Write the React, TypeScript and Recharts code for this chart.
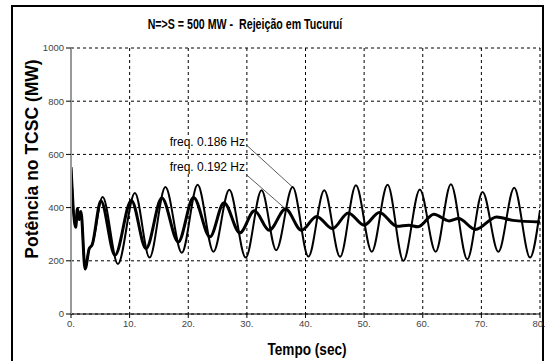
import React from "react"
import {
  LineChart,
  Line,
  XAxis,
  YAxis,
  CartesianGrid,
  ReferenceLine,
} from "recharts"

// time axis ticks (sec) and power ticks (MW)
const timeTicks = [0, 10, 20, 30, 40, 50, 60, 70, 80]
const powerTicks = [0, 200, 400, 600, 800, 1000]

// freq. 0.186 Hz - larger oscillation
const timeA = [
  0, 0.8, 1.1, 1.4, 1.7, 2.4, 3.1, 3.6, 5.4, 8.0, 10.9, 13.4, 16.1, 18.9, 21.6,
  24.3, 27.0, 29.8, 32.5, 35.0, 37.8, 40.5, 43.2, 45.9, 48.6, 51.3, 54.0, 56.7,
  59.5, 62.2, 64.8, 67.6, 70.2, 72.9, 75.6, 78.3, 80,
]
const powerA = [
  552, 326, 397, 355, 385, 169, 245, 260, 440, 188, 455, 212, 477, 230, 486,
  234, 467, 212, 465, 240, 477, 216, 465, 215, 484, 234, 486, 200,
  468, 234, 488, 206, 459, 234, 475, 212, 390,
]

// freq. 0.192 Hz - damped oscillation
const timeB = [
  0, 0.8, 1.1, 1.4, 1.7, 2.4, 3.1, 3.6, 5.1, 7.5, 10.3, 12.8, 15.5, 18.3, 20.9,
  23.7, 26.1, 28.8, 31.3, 33.8, 36.6, 39.3, 41.9, 44.6, 47.3, 50.0, 52.6, 55.6,
  57.6, 59.2, 61.9, 64.5, 66.1, 69.0, 72.6, 75.4, 80,
]
const powerB = [
  552, 326, 397, 355, 385, 169, 245, 260, 425, 221, 427, 246, 436, 271, 438,
  290, 418, 305, 388, 315, 395, 315, 367, 321, 380, 334, 382, 330,
  334, 328, 375, 350, 359, 318, 365, 352, 346,
]

// where the annotation leader lines start (label anchor, data units)
const labelAnchorT = 29.85
const labelAnchorA = 637
const labelAnchorB = 525

const seriesA = timeA.map((t, i) => ({ t, v: powerA[i] }))
const seriesB = timeB.map((t, i) => ({ t, v: powerB[i] }))

const peakA = seriesA[timeA.indexOf(37.8)]
const peakB = seriesB[timeB.indexOf(36.6)]

const sans = "'Liberation Sans', Arial, sans-serif"

const App: React.FC = () => {
  return (
    <div
      style={{
        position: "absolute",
        left: 0,
        top: 0,
        width: 545,
        height: 361,
        overflow: "hidden",
        background: "#fff",
      }}
    >
      {/* outer frame */}
      <div
        style={{
          position: "absolute",
          left: 11,
          top: 5,
          width: 533,
          height: 420,
          border: "2px solid #000",
          boxSizing: "border-box",
        }}
      />

      <div style={{ position: "absolute", left: 0, top: 0 }}>
        <LineChart
          width={545}
          height={361}
          margin={{ top: 48, right: 5, bottom: 17, left: 21 }}
        >
          <CartesianGrid
            strokeDasharray="3 3"
            stroke="#000"
            strokeWidth={1}
          />
          <XAxis
            type="number"
            dataKey="t"
            domain={[0, 80]}
            ticks={timeTicks}
            tickFormatter={(v) => `${v}.`}
            height={30}
            stroke="#000"
            tickSize={4}
            tick={{ fontSize: 9.5, fill: "#444", fontFamily: sans }}
            allowDataOverflow
          />
          <YAxis
            type="number"
            domain={[0, 1000]}
            ticks={powerTicks}
            width={50}
            stroke="#999"
            strokeWidth={2}
            tickLine={{ stroke: "#000", strokeWidth: 1 }}
            tickSize={5}
            tick={{ fontSize: 9.5, fill: "#444", fontFamily: sans }}
          />

          {/* leader lines from labels */}
          <ReferenceLine
            segment={[
              { x: labelAnchorT, y: labelAnchorA },
              { x: peakA.t, y: peakA.v },
            ]}
            stroke="#333"
            strokeWidth={0.8}
          />
          <ReferenceLine
            segment={[
              { x: labelAnchorT, y: labelAnchorB },
              { x: peakB.t, y: peakB.v },
            ]}
            stroke="#333"
            strokeWidth={0.8}
          />

          <Line
            data={seriesA}
            dataKey="v"
            type="monotone"
            stroke="#000"
            strokeWidth={2}
            dot={false}
            isAnimationActive={false}
          />
          <Line
            data={seriesB}
            dataKey="v"
            type="monotone"
            stroke="#000"
            strokeWidth={3}
            dot={false}
            isAnimationActive={false}
          />
        </LineChart>
      </div>

      {/* chart title */}
      <div
        style={{
          position: "absolute",
          left: 245,
          top: 24,
          transform: "translate(-50%, -50%) scaleX(0.76)",
          whiteSpace: "pre",
          fontFamily: sans,
          fontWeight: "bold",
          fontSize: 14,
          lineHeight: 1,
        }}
      >
        N=&gt;S = 500 MW -  Rejeição em Tucuruí
      </div>

      {/* axis titles */}
      <div
        style={{
          position: "absolute",
          left: 33,
          top: 159,
          transform: "translate(-50%, -50%) rotate(-90deg)",
          whiteSpace: "nowrap",
          fontFamily: sans,
          fontWeight: "bold",
          fontSize: 17.5,
          lineHeight: 1,
        }}
      >
        Potência no TCSC (MW)
      </div>
      <div
        style={{
          position: "absolute",
          left: 307,
          top: 350,
          transform: "translate(-50%, -50%) scaleX(0.85)",
          whiteSpace: "nowrap",
          fontFamily: sans,
          fontWeight: "bold",
          fontSize: 16,
          lineHeight: 1,
        }}
      >
        Tempo (sec)
      </div>

      {/* annotations */}
      <div
        style={{
          position: "absolute",
          right: 300,
          top: 142,
          transform: "translateY(-50%)",
          whiteSpace: "nowrap",
          fontFamily: sans,
          fontSize: 12,
          lineHeight: 1,
          background: "#fff",
        }}
      >
        freq. 0.186 Hz
      </div>
      <div
        style={{
          position: "absolute",
          right: 300,
          top: 167,
          transform: "translateY(-50%)",
          whiteSpace: "nowrap",
          fontFamily: sans,
          fontSize: 12,
          lineHeight: 1,
          background: "#fff",
        }}
      >
        freq. 0.192 Hz
      </div>
    </div>
  )
}

export default App
